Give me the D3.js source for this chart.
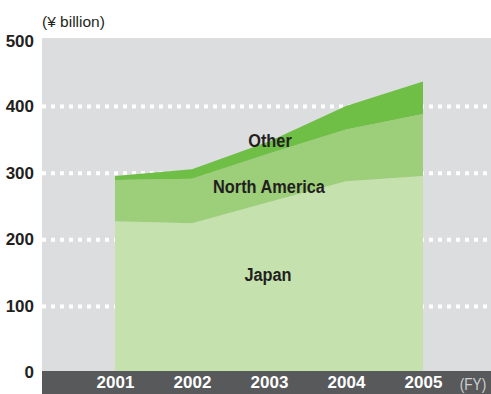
<!DOCTYPE html>
<html>
<head>
<meta charset="utf-8">
<script src="https://cdn.jsdelivr.net/npm/d3@7"></script>
<style>
  body { margin: 0; background: #fff; }
  svg { display: block; }
</style>
</head>
<body>
<div id="chart"></div>
<script>
var years = [2001, 2002, 2003, 2004, 2005];
var japan = [227, 224, 256, 287, 295];
var northAmerica = [62, 67, 73, 78, 93];
var other = [6, 14, 18, 35, 49];
var yTicks = [0, 100, 200, 300, 400, 500];
var gridTicks = [100, 200, 300, 400];

var seriesKeys = ["Japan", "North America", "Other"];
var colors = { "Japan": "#c5e1ae", "North America": "#9dce79", "Other": "#6fbe45" };

var elementWidth = 491, elementHeight = 394;
var margin = { left: 42, right: 0, top: 38, bottom: 23 };

var svg = d3.select("#chart").append("svg")
    .attr("width", elementWidth)
    .attr("height", elementHeight);

var rows = years.map(function(yr, i) {
    return { year: yr, "Japan": japan[i], "North America": northAmerica[i], "Other": other[i] };
});

var x = d3.scaleLinear().domain([2001, 2005]).range([115, 423]);
var y = d3.scaleLinear().domain([0, 500]).range([372.5, 39.5]);

// grey plot background
svg.append("rect")
    .attr("x", margin.left).attr("y", margin.top)
    .attr("width", elementWidth - margin.left - margin.right)
    .attr("height", elementHeight - margin.top - margin.bottom)
    .attr("fill", "#dcdddf");

// dotted gridlines
var grid = svg.append("g")
    .attr("transform", "translate(" + margin.left + ",0)")
    .call(d3.axisRight(y).tickValues(gridTicks).tickSize(elementWidth - margin.left).tickFormat(""));
grid.select(".domain").remove();
grid.selectAll("line")
    .attr("stroke", "#fff")
    .attr("stroke-width", 4)
    .attr("stroke-dasharray", "4,5");

var stack = d3.stack().keys(seriesKeys);
var layers = stack(rows);

var area = d3.area()
    .x(function(d) { return x(d.data.year); })
    .y0(function(d) { return y(d[0]); })
    .y1(function(d) { return y(d[1]); });

svg.append("g").selectAll("path")
    .data(layers)
    .enter().append("path")
    .attr("fill", function(d) { return colors[d.key]; })
    .attr("d", area);

// dark band along the bottom
svg.append("rect")
    .attr("x", margin.left).attr("y", elementHeight - margin.bottom)
    .attr("width", elementWidth - margin.left)
    .attr("height", margin.bottom)
    .attr("fill", "#58595b");

// x axis labels
var xAxis = svg.append("g")
    .attr("transform", "translate(0," + (elementHeight - margin.bottom) + ")")
    .call(d3.axisBottom(x).tickValues(years).tickSize(0).tickFormat(d3.format("d")));
xAxis.select(".domain").remove();
xAxis.selectAll("text")
    .attr("y", 5)
    .attr("dy", "0.71em")
    .attr("fill", "#fff")
    .style("font-family", "'Liberation Sans', Arial, sans-serif")
    .style("font-size", "17px")
    .style("font-weight", "bold");

svg.append("text")
    .attr("transform", "translate(473,390) scale(0.85,1)")
    .attr("text-anchor", "middle")
    .attr("fill", "#d0d0d0")
    .style("font-family", "'Liberation Sans', Arial, sans-serif")
    .style("font-size", "16px")
    .text("(FY)");

// y axis labels
var yAxis = svg.append("g")
    .attr("transform", "translate(" + margin.left + ",0)")
    .call(d3.axisLeft(y).tickValues(yTicks).tickSize(0));
yAxis.select(".domain").remove();
yAxis.selectAll("text")
    .attr("x", -8)
    .attr("fill", "#231f20")
    .style("font-family", "'Liberation Sans', Arial, sans-serif")
    .style("font-size", "17px")
    .style("font-weight", "bold");
// keep "500" and "0" clear of the edges
yAxis.selectAll(".tick").filter(function(d) { return d === 500; }).select("text").attr("dy", "0.42em");
yAxis.selectAll(".tick").filter(function(d) { return d === 0; }).select("text").attr("dy", "0.3em");

svg.append("text")
    .attr("x", 42).attr("y", 27)
    .attr("fill", "#231f20")
    .style("font-family", "'Liberation Sans', Arial, sans-serif")
    .style("font-size", "15.5px")
    .text("(\u00a5 billion)");

// series labels (condensed look)
var labels = [
    { text: "Other", x: 270, y: 147 },
    { text: "North America", x: 269, y: 193 },
    { text: "Japan", x: 268, y: 281 }
];
svg.append("g").selectAll("text")
    .data(labels)
    .enter().append("text")
    .attr("transform", function(d) { return "translate(" + d.x + "," + d.y + ") scale(0.86,1)"; })
    .attr("text-anchor", "middle")
    .attr("fill", "#231f20")
    .style("font-family", "'Liberation Sans', Arial, sans-serif")
    .style("font-size", "19px")
    .style("font-weight", "bold")
    .text(function(d) { return d.text; });
</script>
</body>
</html>
